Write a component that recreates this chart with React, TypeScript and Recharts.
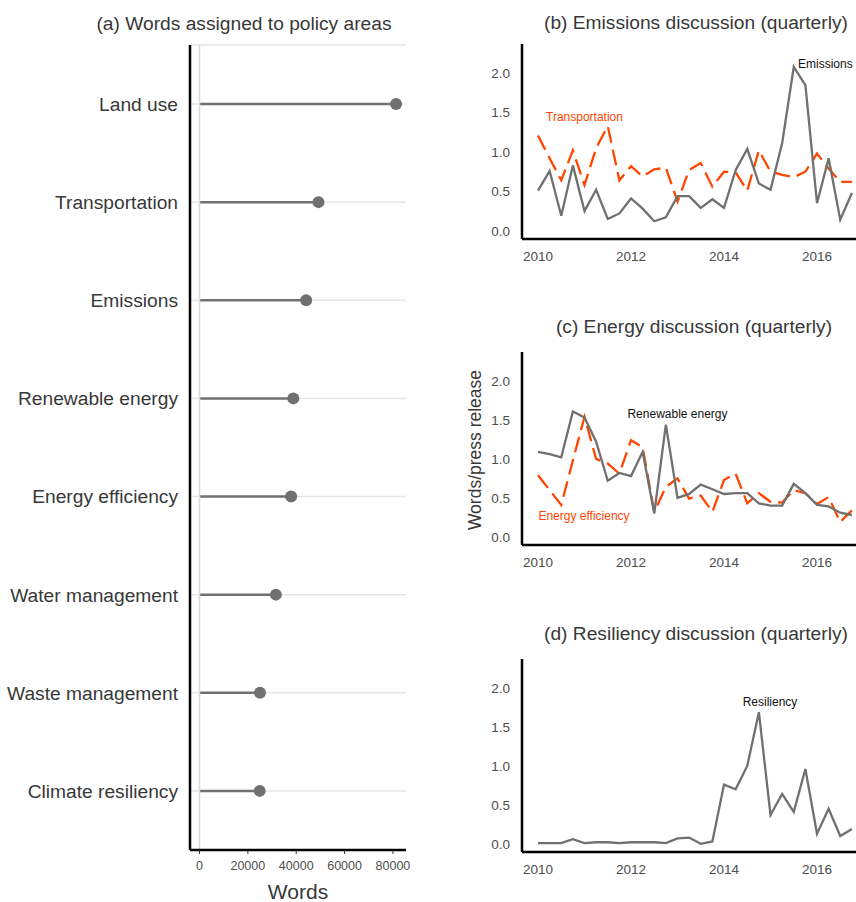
import {
  Bar,
  CartesianGrid,
  ComposedChart,
  Line,
  LineChart,
  ReferenceDot,
  ReferenceLine,
  XAxis,
  YAxis,
} from "recharts";

const FONT = '"Liberation Sans", Arial, Helvetica, sans-serif';
const GRAY = "#707070";
const ORANGE = "#ff4500";
const TEXT = "#383838";
const TICK = "#4d4d4d";

// (a) words per policy area
const policyAreas = [
  "Land use",
  "Transportation",
  "Emissions",
  "Renewable energy",
  "Energy efficiency",
  "Water management",
  "Waste management",
  "Climate resiliency",
];
const areaWords = [81300, 49200, 44100, 38800, 37900, 31600, 25000, 24900];
const wordTicks = [0, 20000, 40000, 60000, 80000];

// quarterly series, words per press release
const quarters = [
  2010, 2010.25, 2010.5, 2010.75, 2011, 2011.25, 2011.5, 2011.75,
  2012, 2012.25, 2012.5, 2012.75, 2013, 2013.25, 2013.5, 2013.75,
  2014, 2014.25, 2014.5, 2014.75, 2015, 2015.25, 2015.5, 2015.75,
  2016, 2016.25, 2016.5, 2016.75,
];
const emissions = [
  0.51, 0.76, 0.19, 0.83, 0.25, 0.52, 0.15, 0.22, 0.41, 0.28, 0.12, 0.17,
  0.44, 0.44, 0.29, 0.4, 0.29, 0.77, 1.04, 0.6, 0.52, 1.11, 2.08, 1.85,
  0.35, 0.92, 0.14, 0.48,
];
const transportation = [
  1.21, 0.92, 0.64, 1.02, 0.58, 1.05, 1.33, 0.64, 0.82, 0.69, 0.78, 0.8,
  0.37, 0.77, 0.86, 0.56, 0.75, 0.74, 0.51, 1.02, 0.75, 0.71, 0.68, 0.75,
  0.98, 0.79, 0.62, 0.62,
];
const renewable = [
  1.09, 1.06, 1.02, 1.61, 1.53, 1.22, 0.72, 0.82, 0.78, 1.09, 0.3, 1.44,
  0.5, 0.55, 0.67, 0.61, 0.55, 0.56, 0.56, 0.43, 0.4, 0.4, 0.68, 0.56,
  0.41, 0.39, 0.31, 0.28,
];
const efficiency = [
  0.79, 0.6, 0.41, 0.98, 1.54, 1.0, 0.94, 0.81, 1.24, 1.15, 0.32, 0.64,
  0.75, 0.49, 0.53, 0.32, 0.73, 0.81, 0.43, 0.56, 0.45, 0.44, 0.6, 0.56,
  0.42, 0.51, 0.19, 0.34,
];
const resiliency = [
  0.01, 0.01, 0.01, 0.06, 0.01, 0.02, 0.02, 0.01, 0.02, 0.02, 0.02, 0.01,
  0.07, 0.08, 0.0, 0.03, 0.76, 0.7, 1.0, 1.69, 0.37, 0.64, 0.41, 0.96,
  0.13, 0.45, 0.1, 0.19,
];
const yearTicks = [2010, 2012, 2014, 2016];
const rateTicks = [0, 0.5, 1, 1.5, 2];

const areaData = policyAreas.map((area, i) => ({ area, words: areaWords[i] }));
const quarterData = quarters.map((t, i) => ({
  t,
  emissions: emissions[i],
  transportation: transportation[i],
  renewable: renewable[i],
  efficiency: efficiency[i],
  resiliency: resiliency[i],
}));

const Lollipop = (props: any) => {
  const { x, y, width, height } = props;
  const cy = y + height / 2;
  return (
    <g>
      <line x1={x} x2={x + width} y1={cy} y2={cy} stroke={GRAY} strokeWidth={2.5} />
      <circle cx={x + width} cy={cy} r={6} fill={GRAY} />
    </g>
  );
};

const title = (text: string, top: number, left: number, width: number) => (
  <div
    style={{
      position: "absolute",
      top,
      left,
      width,
      textAlign: "center",
      fontFamily: FONT,
      fontSize: 19.2,
      lineHeight: "22px",
      color: TEXT,
      whiteSpace: "nowrap",
    }}
  >
    {text}
  </div>
);

type Note = { t: number; v: number; text: string; color: string };

type PanelProps = {
  top: number;
  height: number;
  lines: { key: string; color: string; dashed?: boolean }[];
  notes: Note[];
};

const QuarterPanel = ({ top, height, lines, notes }: PanelProps) => (
  <div style={{ position: "absolute", left: 440, top }}>
    <LineChart
      width={430}
      height={height}
      data={quarterData}
      margin={{ top: 14, right: 3, bottom: 0, left: 0 }}
      style={{ fontFamily: FONT }}
    >
      <XAxis
        dataKey="t"
        type="number"
        domain={[2009.656, 2017.075]}
        ticks={yearTicks}
        allowDataOverflow
        height={31}
        axisLine={{ stroke: "#000", strokeWidth: 2.5 }}
        tickLine={false}
        tickSize={4}
        tickMargin={8}
        tick={{ fill: TICK, fontSize: 13.5 }}
      />
      <YAxis
        type="number"
        domain={[-0.105, 2.372]}
        ticks={rateTicks}
        allowDataOverflow
        width={82}
        axisLine={{ stroke: "#000", strokeWidth: 2.5 }}
        tickLine={false}
        tickSize={4}
        tickMargin={8}
        tickFormatter={(v: number) => v.toFixed(1)}
        tick={{ fill: TICK, fontSize: 13.5 }}
      />
      {lines.map((l) => (
        <Line
          key={l.key}
          type="linear"
          dataKey={l.key}
          stroke={l.color}
          strokeWidth={l.dashed ? 2.3 : 2.3}
          strokeDasharray={l.dashed ? "16 7" : undefined}
          dot={false}
          activeDot={false}
          isAnimationActive={false}
        />
      ))}
      {notes.map((n) => (
        <ReferenceDot
          key={n.text}
          x={n.t}
          y={n.v}
          r={0}
          fill="none"
          stroke="none"
          label={{ value: n.text, position: "center", fill: n.color, fontSize: 12 }}
        />
      ))}
    </LineChart>
  </div>
);

export default function App() {
  return (
    <div
      style={{
        position: "absolute",
        left: 0,
        top: 0,
        width: 856,
        height: 902,
        overflow: "hidden",
        background: "#fff",
      }}
    >
      {title("(a) Words assigned to policy areas", 13, 0, 488)}
      {title("(b) Emissions discussion (quarterly)", 12, 544, 300)}
      {title("(c) Energy discussion (quarterly)", 316, 544, 300)}
      {title("(d) Resiliency discussion (quarterly)", 623, 544, 300)}

      <div style={{ position: "absolute", left: 0, top: 0 }}>
        <ComposedChart
          layout="vertical"
          width={420}
          height={902}
          data={areaData}
          margin={{ top: 45, right: 14, bottom: 0, left: 0 }}
          style={{ fontFamily: FONT }}
        >
          <CartesianGrid vertical={false} stroke="#e6e6e6" strokeWidth={1.5} />
          <ReferenceLine x={0} stroke="#dadada" strokeWidth={1.5} />
          <XAxis
            type="number"
            dataKey="words"
            domain={[-3930, 85400]}
            ticks={wordTicks}
            allowDataOverflow
            height={52}
            axisLine={{ stroke: "#000", strokeWidth: 2.5 }}
            tickLine={{ stroke: "#333" }}
            tickSize={4}
            tickMargin={7}
            tick={{ fill: TICK, fontSize: 12.5 }}
            label={{ value: "Words", position: "insideBottom", offset: 3, fill: TEXT, fontSize: 21 }}
          />
          <YAxis
            type="category"
            dataKey="area"
            width={190}
            padding={{ top: 10, bottom: 10 }}
            axisLine={{ stroke: "#000", strokeWidth: 2.5 }}
            tickLine={false}
            tickSize={0}
            tickMargin={12}
            tick={{ fill: TEXT, fontSize: 19.2 }}
          />
          <Bar dataKey="words" barSize={12} shape={<Lollipop />} isAnimationActive={false} />
        </ComposedChart>
      </div>

      <QuarterPanel
        top={30}
        height={240}
        lines={[
          { key: "transportation", color: ORANGE, dashed: true },
          { key: "emissions", color: GRAY },
        ]}
        notes={[
          { t: 2016.18, v: 2.125, text: "Emissions", color: "#111" },
          { t: 2011.0, v: 1.445, text: "Transportation", color: ORANGE },
        ]}
      />
      <QuarterPanel
        top={338}
        height={238}
        lines={[
          { key: "efficiency", color: ORANGE, dashed: true },
          { key: "renewable", color: GRAY },
        ]}
        notes={[
          { t: 2013.0, v: 1.586, text: "Renewable energy", color: "#111" },
          { t: 2010.99, v: 0.265, text: "Energy efficiency", color: ORANGE },
        ]}
      />
      <QuarterPanel
        top={645}
        height={238}
        lines={[{ key: "resiliency", color: GRAY }]}
        notes={[{ t: 2014.99, v: 1.825, text: "Resiliency", color: "#111" }]}
      />

      <div
        style={{
          position: "absolute",
          left: 475 - 100,
          top: 450 - 11,
          width: 200,
          height: 22,
          lineHeight: "22px",
          textAlign: "center",
          transform: "rotate(-90deg)",
          fontFamily: FONT,
          fontSize: 17.5,
          color: TEXT,
          whiteSpace: "nowrap",
        }}
      >
        Words/press release
      </div>
    </div>
  );
}
